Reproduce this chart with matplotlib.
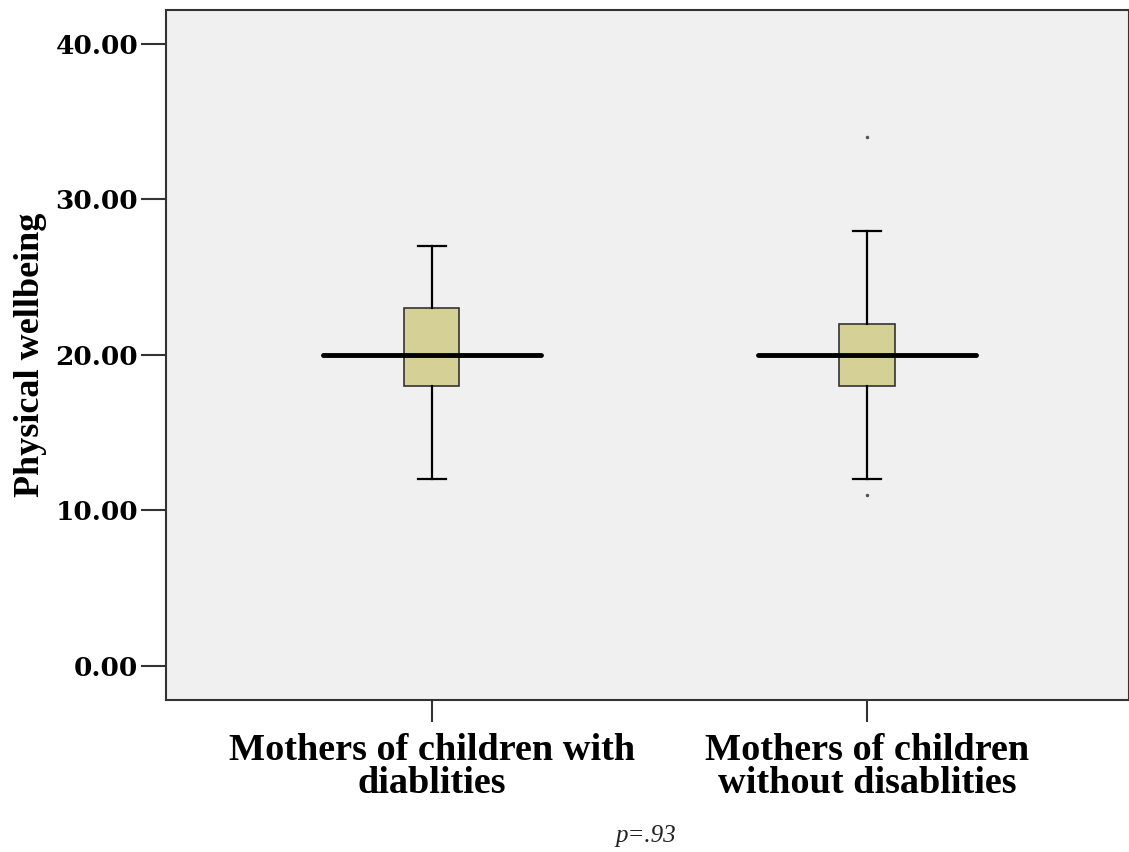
import matplotlib
matplotlib.use("Agg")
import matplotlib.pyplot as plt

# group summary values
groups = ["Mothers of children with\ndiablities", "Mothers of children\nwithout disablities"]
medians = [20, 20]
q1 = [18, 18]
q3 = [23, 22]
whis_lo = [12, 12]
whis_hi = [27, 28]
outliers = [[], [34, 11]]
yticks = [0, 10, 20, 30, 40]
p_text = "p=.93"

positions = [1, 2]

fig = plt.figure(figsize=(11.29, 8.52), dpi=100)
ax = fig.add_axes([0.147, 0.1784, 0.853, 0.81])
ax.set_facecolor("#f0f0f0")

stats = []
for i in range(len(groups)):
    stats.append(dict(med=medians[i], q1=q1[i], q3=q3[i],
                      whislo=whis_lo[i], whishi=whis_hi[i], fliers=outliers[i]))

ax.bxp(stats, positions=positions, widths=0.127, patch_artist=True,
       boxprops=dict(facecolor="#d5d096", edgecolor="#333333", linewidth=1.2),
       whiskerprops=dict(color="black", linewidth=1.6),
       capprops=dict(color="black", linewidth=1.6),
       medianprops=dict(linewidth=0),
       flierprops=dict(marker="o", markersize=1.5, markerfacecolor="#555555",
                       markeredgecolor="#555555"))

# wide median bars like the SPSS output
ax.hlines(medians, [p - 0.25 for p in positions], [p + 0.25 for p in positions],
          colors="black", linewidth=3.5, zorder=5, capstyle="round")

ax.set_xlim(0.389, 2.602)
ax.set_ylim(-2.19, 42.19)
ax.set_yticks(yticks)
ax.set_yticklabels(["%.2f" % v for v in yticks],
                   fontfamily="DejaVu Serif", fontweight="bold", fontsize=19)
ax.set_xticks(positions)
ax.set_xticklabels(groups, fontfamily="Liberation Serif", fontweight="bold",
                   fontsize=27.5, linespacing=0.92)
ax.tick_params(axis="y", length=18, width=1.5, color="#333333", pad=2)
ax.tick_params(axis="x", length=16, width=1.5, color="#333333", pad=8)

for s in ax.spines.values():
    s.set_linewidth(1.5)
    s.set_color("#333333")

ax.set_ylabel("Physical wellbeing", fontfamily="Liberation Serif",
              fontweight="bold", fontsize=26, labelpad=6)

fig.text(0.572, 0.012, p_text, fontfamily="Liberation Serif", fontstyle="italic",
         fontsize=18, ha="center", va="baseline", color="#222222")

fig.savefig("out.png", dpi=100)
